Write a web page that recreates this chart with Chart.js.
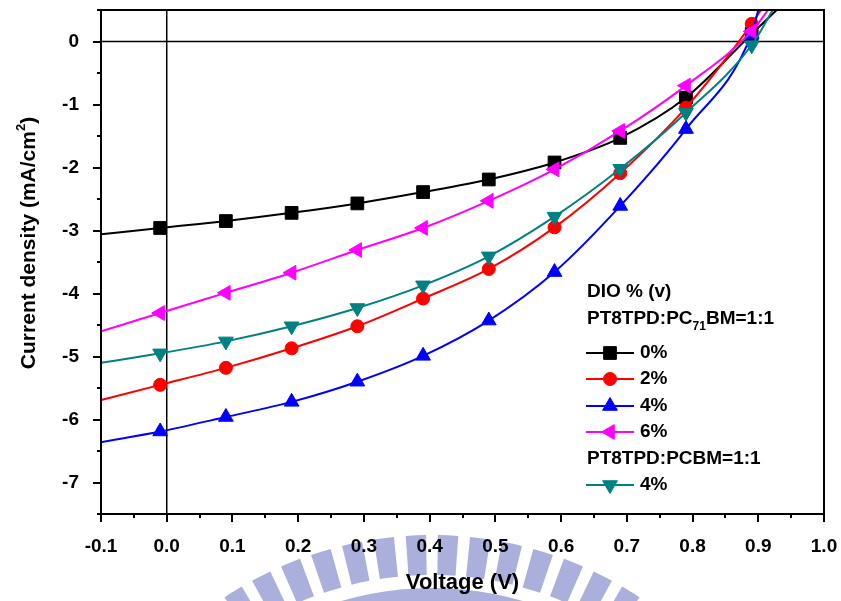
<!DOCTYPE html>
<html>
<head>
<meta charset="utf-8">
<script src="https://cdn.jsdelivr.net/npm/chart.js@4.4.1/dist/chart.umd.min.js"></script>
<style>
  html, body { margin: 0; padding: 0; background: #fff; }
  #wrap { width: 841px; height: 601px; }
</style>
</head>
<body>
<div id="wrap"><canvas id="chart"></canvas></div>
<script>
// marker voltages (V)
const voltage = [-0.01, 0.09, 0.19, 0.29, 0.39, 0.49, 0.59, 0.69, 0.79, 0.89];

// current density (mA/cm2) at each marker
const dio0 = [-2.96, -2.85, -2.72, -2.57, -2.39, -2.19, -1.92, -1.53, -0.89, 0.12];
const dio2 = [-5.45, -5.18, -4.87, -4.52, -4.08, -3.61, -2.95, -2.09, -1.05, 0.28];
const dio4 = [-6.19, -5.96, -5.72, -5.40, -4.99, -4.43, -3.66, -2.61, -1.39, 0.12];
const dio6 = [-4.31, -3.99, -3.67, -3.31, -2.96, -2.53, -2.03, -1.42, -0.70, 0.16];
const pcbm4 = [-4.95, -4.76, -4.52, -4.23, -3.87, -3.41, -2.78, -2.02, -1.13, -0.06];

// where each trace comes in at -0.1 V, and the voltage where it leaves the top (0.5)
const traceStartJ = [-3.06, -5.69, -6.36, -4.60, -5.10];
const traceEndV = [0.928, 0.904, 0.900, 0.915, 0.922];

const labels = ['0%', '2%', '4%', '6%', '4%'];

const FONT = "'Liberation Sans', Arial, sans-serif";

function trace(i, values, color, pointStyle, rotation, radius) {
    const pts = [{ x: -0.1, y: traceStartJ[i] }];
    voltage.forEach((v, k) => pts.push({ x: v, y: values[k] }));
    pts.push({ x: traceEndV[i], y: 0.5 });
    const radii = pts.map((p, k) => (k === 0 || k === pts.length - 1) ? 0 : radius);
    return {
        label: labels[i],
        data: pts,
        borderColor: color,
        backgroundColor: color,
        borderWidth: 2,
        pointStyle: pointStyle,
        pointRotation: rotation,
        pointRadius: radii,
        pointBorderWidth: 1,
        cubicInterpolationMode: 'monotone',
        order: 5 - i
    };
}

const datasets = [
    trace(0, dio0, '#000000', 'rect', 0, 9),
    trace(1, dio2, '#ff0000', 'circle', 0, 6.5),
    trace(2, dio4, '#0000ff', 'triangle', 0, 8.5),
    trace(3, dio6, '#ff00ff', 'triangle', -90, 8.5),
    trace(4, pcbm4, '#008080', 'triangle', 180, 8.5)
];

// frame, zero lines, tick marks, titles, legend and the faint logo behind
const decor = {
    id: 'decor',
    beforeDraw(chart) {
        const ctx = chart.ctx;
        ctx.save();
        ctx.fillStyle = '#fff';
        ctx.fillRect(0, 0, chart.width, chart.height);
        // watermark logo
        const cx = 432, cy = 912;
        ctx.fillStyle = '#abafdb';
        for (let k = -8; k <= 7; k++) {
            const mid = (-90 + 2.45 + 4.9 * k) * Math.PI / 180;
            const hw = 1.55 * Math.PI / 180;
            ctx.beginPath();
            ctx.arc(cx, cy, 377, mid - hw, mid + hw);
            ctx.arc(cx, cy, 337, mid + hw, mid - hw, true);
            ctx.closePath();
            ctx.fill();
        }
        ctx.beginPath();
        ctx.arc(cx, cy, 324, Math.PI, 2 * Math.PI);
        ctx.arc(cx, cy, 300, 2 * Math.PI, Math.PI, true);
        ctx.closePath();
        ctx.fill();
        ctx.restore();
    },
    beforeDatasetsDraw(chart) {
        const { ctx, chartArea, scales } = chart;
        const x0 = scales.x.getPixelForValue(0);
        const y0 = scales.y.getPixelForValue(0);
        ctx.save();
        ctx.strokeStyle = '#000';
        ctx.lineWidth = 1.5;
        ctx.beginPath();
        ctx.moveTo(chartArea.left, y0);
        ctx.lineTo(chartArea.right, y0);
        ctx.moveTo(x0, chartArea.top);
        ctx.lineTo(x0, chartArea.bottom);
        ctx.stroke();
        ctx.restore();
    },
    afterDraw(chart) {
        const { ctx, chartArea, scales } = chart;
        ctx.save();
        ctx.strokeStyle = '#000';
        ctx.lineWidth = 2;
        ctx.strokeRect(chartArea.left, chartArea.top, chartArea.right - chartArea.left, chartArea.bottom - chartArea.top);

        // tick marks, long on labelled ticks
        ctx.beginPath();
        scales.y.ticks.forEach(t => {
            const py = Math.round(scales.y.getPixelForValue(t.value));
            const len = t.label !== '' ? 8 : 4;
            ctx.moveTo(chartArea.left - len, py);
            ctx.lineTo(chartArea.left, py);
        });
        scales.x.ticks.forEach(t => {
            const px = Math.round(scales.x.getPixelForValue(t.value));
            const len = t.label !== '' ? 8 : 4;
            ctx.moveTo(px, chartArea.bottom);
            ctx.lineTo(px, chartArea.bottom + len);
        });
        ctx.stroke();

        // axis titles
        ctx.fillStyle = '#000';
        ctx.textBaseline = 'middle';
        ctx.textAlign = 'center';
        ctx.font = 'bold 22px ' + FONT;
        ctx.fillText('Voltage (V)', (chartArea.left + chartArea.right) / 2, 583);

        ctx.save();
        ctx.translate(29, 243);
        ctx.rotate(-Math.PI / 2);
        ctx.textAlign = 'left';
        ctx.font = 'bold 21px ' + FONT;
        const a = 'Current density (mA/cm';
        const wa = ctx.measureText(a).width;
        const wc = ctx.measureText(')').width;
        ctx.font = 'bold 13px ' + FONT;
        const wb = ctx.measureText('2').width;
        let sx = -(wa + wb + wc) / 2;
        ctx.font = 'bold 21px ' + FONT;
        ctx.fillText(a, sx, 0);
        ctx.font = 'bold 13px ' + FONT;
        ctx.fillText('2', sx + wa, -8);
        ctx.font = 'bold 21px ' + FONT;
        ctx.fillText(')', sx + wa + wb, 0);
        ctx.restore();

        // legend
        const lx = 587;
        ctx.textAlign = 'left';
        ctx.font = 'bold 19px ' + FONT;
        ctx.fillText('DIO % (v)', lx, 292);
        ctx.fillText('PT8TPD:PC', lx, 319);
        const w = ctx.measureText('PT8TPD:PC').width;
        ctx.font = 'bold 12px ' + FONT;
        ctx.fillText('71', lx + w, 327);
        const w2 = ctx.measureText('71').width;
        ctx.font = 'bold 19px ' + FONT;
        ctx.fillText('BM=1:1', lx + w + w2, 319);
        ctx.fillText('PT8TPD:PCBM=1:1', lx, 459);

        const rowY = [353, 379, 406, 432, 485];
        chart.data.datasets.forEach((ds, i) => {
            const y = rowY[i];
            ctx.strokeStyle = ds.borderColor;
            ctx.fillStyle = ds.borderColor;
            ctx.lineWidth = 2;
            ctx.beginPath();
            ctx.moveTo(586, y);
            ctx.lineTo(634, y);
            ctx.stroke();
            ctx.lineWidth = 1;
            Chart.helpers.drawPoint(ctx, {
                pointStyle: ds.pointStyle,
                rotation: ds.pointRotation,
                radius: ds.pointRadius[1],
                borderWidth: 1
            }, 610, y);
            ctx.fillStyle = '#000';
            ctx.font = 'bold 19px ' + FONT;
            ctx.fillText(ds.label, 640, y);
        });
        ctx.restore();
    }
};

new Chart(document.getElementById('chart'), {
    type: 'line',
    data: { datasets: datasets },
    options: {
        responsive: true,
        maintainAspectRatio: false,
        animation: false,
        devicePixelRatio: 1,
        layout: { padding: { top: 10, right: 17, left: 0, bottom: 0 } },
        plugins: { legend: { display: false }, tooltip: { enabled: false } },
        scales: {
            x: {
                type: 'linear',
                min: -0.1,
                max: 1.0,
                grid: { display: false },
                border: { display: false },
                ticks: {
                    stepSize: 0.05,
                    autoSkip: false,
                    maxRotation: 0,
                    padding: 13,
                    color: '#000',
                    font: { family: FONT, size: 19, weight: 'bold' },
                    callback: (v) => {
                        const r = Math.round(v * 100);
                        return r % 10 === 0 ? (r / 100).toFixed(1) : '';
                    }
                },
                afterFit: (scale) => {
                    scale.height = 87;
                    scale.paddingLeft = 0;
                    scale.paddingRight = 0;
                }
            },
            y: {
                min: -7.5,
                max: 0.5,
                grid: { display: false },
                border: { display: false },
                ticks: {
                    stepSize: 0.5,
                    autoSkip: false,
                    padding: 14,
                    color: '#000',
                    font: { family: FONT, size: 19, weight: 'bold', lineHeight: 1 },
                    callback: (v) => (v % 1 === 0 ? String(v) : '')
                },
                afterFit: (scale) => {
                    scale.width = 101;
                    scale.paddingTop = 0;
                    scale.paddingBottom = 0;
                }
            }
        }
    },
    plugins: [decor]
});
</script>
</body>
</html>
